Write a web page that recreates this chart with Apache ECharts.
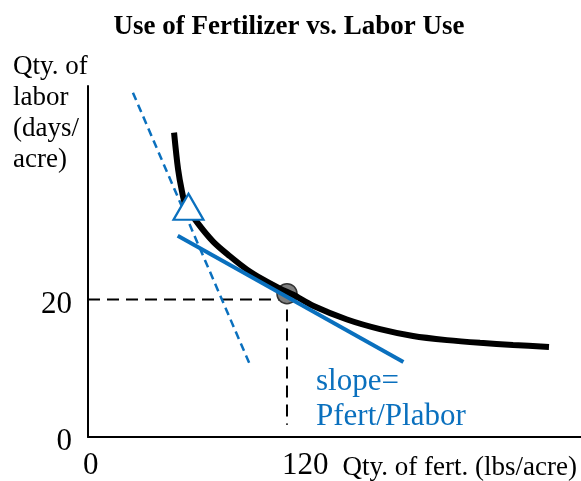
<!DOCTYPE html>
<html><head><meta charset="utf-8">
<script src="https://cdn.jsdelivr.net/npm/echarts@6/dist/echarts.min.js"></script>
<style>html,body{margin:0;padding:0;background:#fff}#c{width:581px;height:481px}</style>
</head><body><div id="c"></div>
<script>
// Isoquant (black curve)
const isoquantX = [51.9, 54.3, 56.7, 58.8, 65.6, 75.6, 85.6, 95.7, 105.7, 115.8, 123.8, 135.7, 156.2, 176.1, 196.0, 216.5, 236.4, 256.3, 278.0];
const isoquantY = [44.3, 39.0, 35.7, 33.8, 31.3, 28.4, 26.3, 24.4, 22.9, 21.6, 20.7, 19.1, 17.1, 15.7, 14.7, 14.1, 13.7, 13.4, 13.1];
// Iso-cost tangent line (solid blue)
const tangentX = [54.1, 190.2];
const tangentY = [29.3, 10.9];
// Steeper price line (dashed blue)
const steepX = [27.1, 97.7];
const steepY = [50.1, 10.5];
// Optimum point and the triangle point
const optimumPoint = [120, 20.86];
const trianglePoint = [60.6, 33.5];
// Guide lines to the axes
const guideX = [0, 120, 120];
const guideY = [20, 20, 1.8];
// Tick labels
const xTickValues = [0, 120];
const yTickValues = [0, 20];

const FONT = '"Liberation Serif", "Times New Roman", serif';
const BLUE = '#0a70be';
const zip = (xs, ys) => xs.map((x, i) => [x, ys[i]]);

const chart = echarts.init(document.getElementById('c'), null, {renderer: 'canvas'});
chart.setOption({
  animation: false,
  backgroundColor: '#fff',
  title: [
    {text: 'Use of Fertilizer vs. Labor Use', left: 289, top: 12, textAlign: 'center', padding: 0,
     textStyle: {fontFamily: FONT, fontWeight: 'bold', fontSize: 27, color: '#000', lineHeight: 30}},
    {text: 'Qty. of\nlabor\n(days/\nacre)', left: 13, top: 51, padding: 0,
     textStyle: {fontFamily: FONT, fontWeight: 'normal', fontSize: 27, color: '#000', lineHeight: 31}},
    {text: 'Qty. of fert. (lbs/acre)', right: 4, top: 454, padding: 0,
     textStyle: {fontFamily: FONT, fontWeight: 'normal', fontSize: 27, color: '#000', lineHeight: 28}},
    {text: 'slope=\nPfert/Plabor', left: 316, top: 364, padding: 0,
     textStyle: {fontFamily: FONT, fontWeight: 'normal', fontSize: 31, color: BLUE, lineHeight: 35}}
  ],
  grid: {left: 88, right: 0, top: 86, bottom: 40},
  xAxis: {
    type: 'value', min: 0, max: 297.3,
    axisLine: {show: true, lineStyle: {color: '#000', width: 2}},
    axisTick: {show: false},
    splitLine: {show: false},
    axisLabel: {
      customValues: xTickValues, showMinLabel: true, showMaxLabel: true,
      fontFamily: FONT, fontSize: 31, color: '#000', margin: 13, align: 'left', padding: [0, 0, 0, -5]
    }
  },
  yAxis: {
    type: 'value', min: 0, max: 51.08,
    axisLine: {show: true, lineStyle: {color: '#000', width: 2}},
    axisTick: {show: false},
    splitLine: {show: false},
    axisLabel: {
      customValues: yTickValues, showMinLabel: true, showMaxLabel: true,
      fontFamily: FONT, fontSize: 31, color: '#000', margin: 16, verticalAlign: 'top', lineHeight: 10
    }
  },
  series: [
    {type: 'line', data: zip(guideX, guideY), symbol: 'none', silent: true,
     lineStyle: {color: '#000', width: 2, type: [12, 7]}, z: 1},
    {type: 'line', data: zip(steepX, steepY), symbol: 'none', silent: true, clip: false,
     lineStyle: {color: BLUE, width: 2.5, type: [8, 5]}, z: 2},
    {type: 'scatter', data: [optimumPoint], symbol: 'circle', symbolSize: 20, silent: true,
     itemStyle: {color: '#7f7f7f', borderColor: '#333', borderWidth: 1.5, opacity: 1}, z: 3},
    {type: 'line', data: zip(isoquantX, isoquantY), symbol: 'none', smooth: 0.3, silent: true,
     lineStyle: {color: '#000', width: 6}, z: 4},
    {type: 'line', data: zip(tangentX, tangentY), symbol: 'none', silent: true,
     lineStyle: {color: BLUE, width: 4}, z: 5},
    {type: 'scatter', data: [trianglePoint], symbol: 'triangle', symbolSize: [30, 26], silent: true,
     itemStyle: {color: '#fff', borderColor: BLUE, borderWidth: 2.2, opacity: 1}, z: 6}
  ]
});
</script>
</body></html>
